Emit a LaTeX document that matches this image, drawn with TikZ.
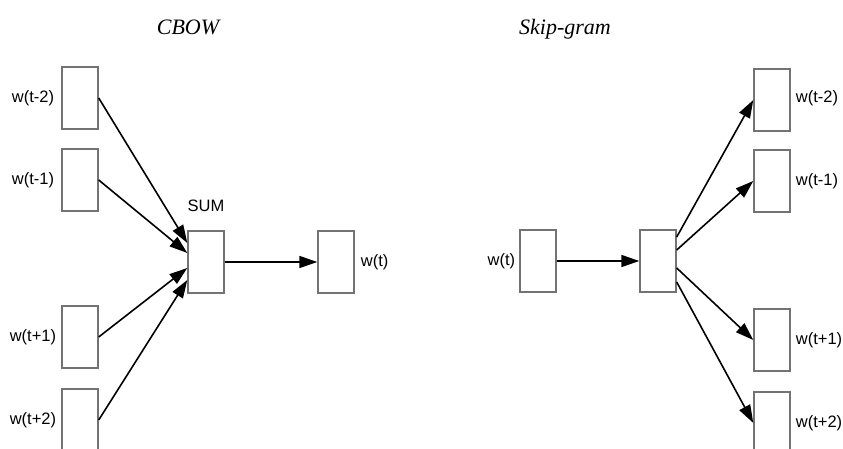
\documentclass[tikz,border=0pt]{standalone}
\usepackage{fontspec}
\setmainfont{Liberation Serif}
\setsansfont{Liberation Sans}
\usetikzlibrary{arrows.meta,calc}
\begin{document}
\begin{tikzpicture}[x=1pt,y=1pt,
  vec/.style={draw=black!55,line width=1.4pt,minimum width=36pt,minimum height=62pt,inner sep=0pt,fill=white},
  lab/.style={font=\sffamily\fontsize{16.5}{16.5}\selectfont,inner sep=0pt},
  ttl/.style={font=\itshape\fontsize{22}{22}\selectfont,inner sep=0pt,anchor=base},
  arr/.style={draw=black,line width=1.6pt,-{Triangle[length=18pt,width=12pt]}}]
\useasboundingbox (0,0) rectangle (843,-449);
% titles
\node[ttl] (tcbow) at (188,-35) {CBOW};
\node[ttl] (tskip) at (565,-35) {Skip-gram};
% CBOW
\node[vec] (lm2) at (80,-98) {};
\node[vec] (lm1) at (80,-180) {};
\node[vec] (lp1) at (80,-337) {};
\node[vec] (lp2) at (80,-420) {};
\node[vec] (sum) at (206,-262) {};
\node[vec] (lout) at (336,-262) {};
\node[lab,anchor=east] (llm2) at ($(lm2.west)+(-7,0)$) {w(t-2)};
\node[lab,anchor=east] (llm1) at ($(lm1.west)+(-7,0)$) {w(t-1)};
\node[lab,anchor=east] (llp1) at ($(lp1.west)+(-5,0)$) {w(t+1)};
\node[lab,anchor=east] (llp2) at ($(lp2.west)+(-5,0)$) {w(t+2)};
\node[lab] (lsum) at ($(sum.north)+(0,24)$) {SUM};
\node[lab,anchor=west] (llout) at ($(lout.east)+(6,0)$) {w(t)};
\coordinate (s1) at ($(sum.west)+(0,19)$);
\coordinate (s2) at ($(sum.west)+(0,9)$);
\coordinate (s3) at ($(sum.west)+(0,-6)$);
\coordinate (s4) at ($(sum.west)+(0,-18)$);
\draw[arr] (lm2.east) -- (s1);
\draw[arr] (lm1.east) -- (s2);
\draw[arr] (lp1.east) -- (s3);
\draw[arr] (lp2.east) -- (s4);
\draw[arr] (sum.east) -- (lout.west);
% Skip-gram
\node[vec] (rin) at (538,-261) {};
\node[vec] (proj) at (658,-261) {};
\node[vec] (rm2) at (772,-100) {};
\node[vec] (rm1) at (772,-181) {};
\node[vec] (rp1) at (772,-340) {};
\node[vec] (rp2) at (772,-423) {};
\node[lab,anchor=east] (lrin) at ($(rin.west)+(-4,0)$) {w(t)};
\node[lab,anchor=west] (lrm2) at ($(rm2.east)+(5,2)$) {w(t-2)};
\node[lab,anchor=west] (lrm1) at ($(rm1.east)+(5,0)$) {w(t-1)};
\node[lab,anchor=west] (lrp1) at ($(rp1.east)+(5,0)$) {w(t+1)};
\node[lab,anchor=west] (lrp2) at ($(rp2.east)+(5,0)$) {w(t+2)};
\coordinate (p1) at ($(proj.east)+(0,24)$);
\coordinate (p2) at ($(proj.east)+(0,11)$);
\coordinate (p3) at ($(proj.east)+(0,-7)$);
\coordinate (p4) at ($(proj.east)+(0,-21)$);
\draw[arr] (rin.east) -- (proj.west);
\draw[arr] (p1) -- (rm2.west);
\draw[arr] (p2) -- (rm1.west);
\draw[arr] (p3) -- (rp1.west);
\draw[arr] (p4) -- (rp2.west);
\end{tikzpicture}
\end{document}
